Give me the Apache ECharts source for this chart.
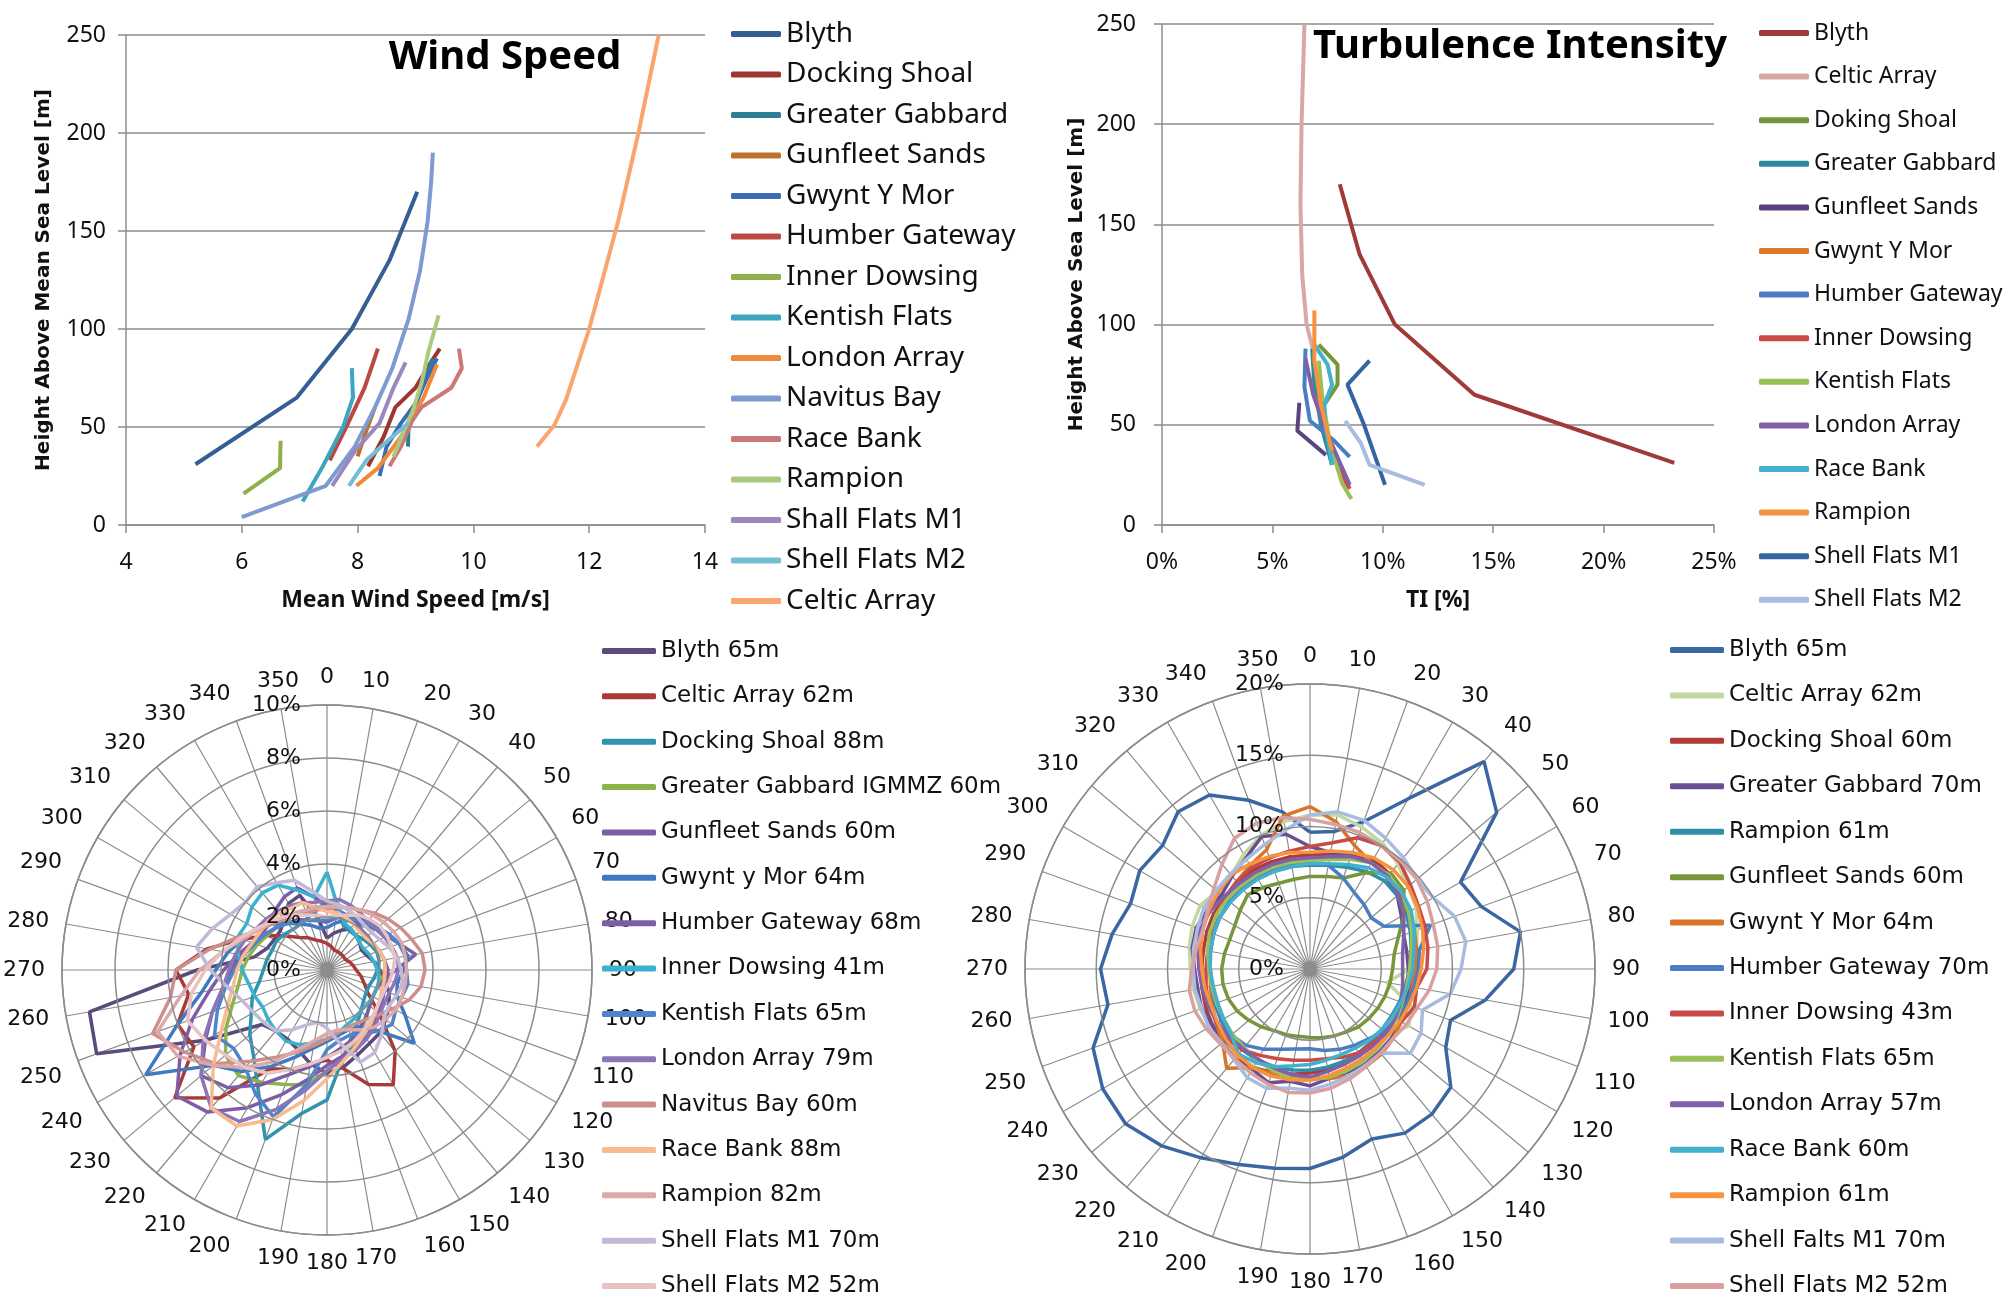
<!DOCTYPE html>
<html><head><meta charset="utf-8">
<script src="https://cdn.jsdelivr.net/npm/echarts@6/dist/echarts.min.js"></script>
<style>html,body{margin:0;padding:0;background:#fff;width:2010px;height:1310px;overflow:hidden}.c{position:absolute;left:0;top:0;width:2010px;height:1310px}</style>
</head><body>
<div id="c1" class="c"></div><div id="c2" class="c"></div><div id="c3" class="c"></div><div id="c4" class="c"></div>
<script>
// ---------- Wind speed profiles: [mean wind speed m/s, height m] ----------
const wsBlyth    = [[5.2,31],[6.95,65],[7.9,100],[8.55,135],[9.03,170]];
const wsDocking  = [[8.18,30],[8.45,45],[8.65,60],[9.0,70],[9.2,80],[9.42,90]];
const wsGG       = [[8.87,40],[8.88,52],[9.05,65],[9.3,85]];
const wsGunfleet = [[8.0,35],[8.15,48],[8.3,60]];
const wsGwynt    = [[8.38,25],[8.5,40],[8.75,52],[9.0,62],[9.2,75],[9.37,85]];
const wsHumber   = [[7.52,33],[7.82,51],[8.12,70],[8.35,90]];
const wsInner    = [[6.03,16],[6.66,29],[6.67,43]];
const wsKentish  = [[7.05,12],[7.4,30],[7.75,50],[7.92,65],[7.9,80]];
const wsLondon   = [[7.98,20],[8.35,29],[8.75,45],[9.14,65],[9.37,82]];
const wsNavitus  = [[6.0,4],[7.45,20],[7.95,40],[8.3,60],[8.6,80],[8.88,105],[9.08,130],[9.21,155],[9.27,175],[9.3,190]];
const wsRace     = [[8.55,30],[8.75,40],[8.94,53],[9.1,60],[9.62,70],[9.8,80],[9.75,90]];
const wsRampion  = [[8.62,35],[8.8,48],[8.95,58],[9.1,72],[9.22,88],[9.4,107]];
const wsShallM1  = [[7.56,20],[7.96,38],[8.38,52],[8.62,70],[8.83,83]];
const wsShellM2  = [[7.85,20],[8.15,33],[8.48,42],[8.88,52]];
const wsCeltic   = [[11.1,40],[11.4,51],[11.6,64],[11.8,82],[12.0,100],[12.2,122],[12.5,155],[12.85,200],[13.2,250]];
const wsNames  = ['Blyth','Docking Shoal','Greater Gabbard','Gunfleet Sands','Gwynt Y Mor','Humber Gateway','Inner Dowsing','Kentish Flats','London Array','Navitus Bay','Race Bank','Rampion','Shall Flats M1','Shell Flats M2','Celtic Array'];
const wsData   = [wsBlyth,wsDocking,wsGG,wsGunfleet,wsGwynt,wsHumber,wsInner,wsKentish,wsLondon,wsNavitus,wsRace,wsRampion,wsShallM1,wsShellM2,wsCeltic];
const wsColors = ['#355E92','#9E3531','#2D7F95','#C0702A','#3A6DB5','#BC4845','#8EB04A','#3EA5C0','#F08A3A','#7D9BD0','#CC7878','#ABCA7E','#9A88BE','#74BDD5','#F9A66E'];

// ---------- Turbulence intensity profiles: [TI %, height m] ----------
const tiBlyth    = [[23.2,31],[14.15,65],[10.55,100],[8.95,135],[8.05,170]];
const tiCeltic   = [[6.9,85],[6.55,100],[6.35,125],[6.27,160],[6.32,200],[6.45,250]];
const tiDoking   = [[7.35,60],[7.95,70],[7.95,80],[7.1,90]];
const tiGG       = [[7.7,30],[7.2,50],[6.9,70],[6.8,88]];
const tiGunfleet = [[7.42,35],[6.13,47],[6.22,61]];
const tiGwynt    = [[8.4,18],[7.6,40],[7.1,64]];
const tiHumber   = [[8.5,34],[7.8,42],[6.7,52],[6.45,69],[6.5,88]];
const tiInner    = [[8.5,18],[7.5,43]];
const tiKentish  = [[8.58,13],[8.15,21],[7.6,41],[7.25,65],[7.1,82]];
const tiLondon   = [[8.5,20],[7.5,45],[6.85,65],[6.5,83]];
const tiRace     = [[7.7,30],[7.4,50],[7.35,60],[7.7,70],[7.5,80],[6.9,90]];
const tiRampion  = [[7.7,37],[7.2,60],[6.9,82],[6.9,107]];
const tiShellM1  = [[10.1,20],[9.15,50],[8.4,70],[9.4,82]];
const tiShellM2  = [[11.9,20],[9.4,30],[9.0,41],[8.3,52]];
const tiNames  = ['Blyth','Celtic Array','Doking Shoal','Greater Gabbard','Gunfleet Sands','Gwynt Y Mor','Humber Gateway','Inner Dowsing','Kentish Flats','London Array','Race Bank','Rampion','Shell Flats M1','Shell Flats M2'];
const tiData   = [tiBlyth,tiCeltic,tiDoking,tiGG,tiGunfleet,tiGwynt,tiHumber,tiInner,tiKentish,tiLondon,tiRace,tiRampion,tiShellM1,tiShellM2];
const tiColors = ['#A03A36','#D9A7A6','#76963A','#2E8AA0','#5B437E','#E0762B','#4A7DC2','#C84B48','#9BC05A','#8060A8','#43B0CC','#F7923F','#3465A0','#A8BCE0'];

// ---------- Direction sectors ----------
const dirs = [0,10,20,30,40,50,60,70,80,90,100,110,120,130,140,150,160,170,180,190,200,210,220,230,240,250,260,270,280,290,300,310,320,330,340,350];

// ---------- Wind direction frequency (%) ----------
const wdBlyth    = [1.2,1.4,1.6,1.8,1.7,1.6,1.5,1.6,1.8,2.0, 2.2,2.5,2.7,2.9,3.1,3.2,3.4,3.7,3.9,3.6, 3.2,3.0,3.0,3.2,5.3,9.25,9.1,4.9,2.8,2.4, 2.3,2.3,2.5,2.9,3.0,2.0];
const wdCeltic   = [1.0,0.9,0.8,0.8,0.8,0.8,0.8,0.9,1.0,1.1, 1.3,1.5,1.8,2.6,4.0,5.0,4.6,3.8,3.4,3.6, 4.0,4.3,6.3,7.5,5.8,6.0,5.3,5.7,4.6,3.4, 2.6,2.0,1.6,1.4,1.2,1.1];
const wdDocking  = [2.6,2.3,1.8,1.7,1.7,1.8,1.9,2.0,2.0,1.9, 1.8,1.7,1.7,1.8,2.0,2.3,2.7,3.4,4.9,5.5, 6.8,5.2,4.3,3.8,3.3,3.0,2.6,2.4,2.3,2.2, 2.2,2.1,2.0,2.0,2.1,2.3];
const wdGG       = [2.4,2.5,2.4,2.2,2.0,1.9,2.0,2.1,2.2,2.2, 2.1,2.0,2.0,2.1,2.3,2.6,3.0,3.4,3.8,4.4, 4.6,4.9,5.2,5.0,4.4,3.8,3.4,3.2,3.0,2.8, 2.6,2.5,2.4,2.4,2.4,2.4];
const wdGunfleet = [1.8,2.0,2.2,2.3,2.4,2.5,2.7,2.9,3.4,2.6, 2.2,2.0,2.0,2.1,2.3,2.5,2.8,3.0,3.3,3.7, 4.2,5.0,5.8,6.2,5.3,4.6,4.0,3.6,3.3,3.0, 2.7,2.5,2.3,2.2,2.0,1.9];
const wdGwynt    = [1.6,1.8,2.0,2.1,2.2,2.4,2.6,2.9,3.1,2.9, 2.7,2.8,3.4,4.3,3.0,2.5,2.4,2.5,2.7,3.0, 3.5,4.2,5.0,5.6,7.9,6.0,4.8,4.2,3.8,3.4, 3.1,2.7,2.3,2.0,1.8,1.6];
const wdHumber   = [2.4,2.3,2.2,2.1,2.0,2.0,2.0,2.1,2.2,2.3, 2.3,2.3,2.4,2.5,2.7,2.9,3.1,3.3,3.6,4.2, 5.0,6.0,7.0,7.4,6.4,5.4,4.5,3.9,3.4,3.0, 2.8,2.8,3.0,3.2,3.3,2.8];
const wdInner    = [3.7,2.4,1.9,1.8,1.7,1.6,1.6,1.7,1.8,1.9, 2.0,2.0,2.0,2.0,2.0,2.1,2.2,2.4,2.6,2.8, 3.0,3.1,3.0,2.9,2.8,2.9,3.0,3.2,3.4,3.6, 3.5,3.7,3.8,3.7,3.2,2.8];
const wdKentish  = [1.9,2.0,2.1,2.2,2.3,2.5,2.7,2.9,3.0,3.0, 3.1,3.0,3.0,3.2,3.0,2.8,2.6,2.7,3.0,4.4, 5.9,5.4,4.8,4.6,4.9,4.4,3.9,3.5,3.2,2.9, 2.7,2.5,2.3,2.1,2.0,1.9];
const wdLondon   = [2.6,2.7,2.6,2.5,2.4,2.4,2.5,2.6,2.7,2.7, 2.6,2.5,2.5,2.6,2.8,3.0,3.2,3.4,3.8,4.6, 5.6,6.6,6.8,6.2,5.4,4.6,4.0,3.7,3.5,3.3, 3.1,3.0,2.9,2.8,2.7,2.6];
const wdNavitus  = [2.3,2.4,2.5,2.6,2.8,3.0,3.2,3.4,3.65,3.7, 3.6,3.3,2.9,2.6,2.4,2.3,2.3,2.4,2.6,2.9, 3.3,3.8,4.5,5.5,6.2,7.0,6.0,5.7,4.5,3.6, 3.0,2.7,2.5,2.4,2.3,2.3];
const wdRace     = [2.2,2.2,2.1,2.0,1.9,1.9,2.0,2.1,2.2,2.2, 2.2,2.2,2.3,2.4,2.6,2.8,3.1,3.5,4.1,5.0, 6.0,6.8,6.8,5.6,4.6,4.0,3.6,3.4,3.2,3.0, 2.9,2.9,2.8,2.7,2.7,2.4];
const wdRampion  = [2.4,2.4,2.5,2.6,2.7,2.8,2.9,3.0,3.0,3.0, 3.0,3.0,3.0,2.9,2.8,2.6,2.4,2.3,2.4,2.7, 3.2,4.0,4.8,5.6,6.5,6.8,5.6,4.8,4.0,3.4, 3.0,2.8,2.6,2.5,2.4,2.4];
const wdShellM1  = [2.6,2.5,2.4,2.3,2.2,2.2,2.3,2.5,2.7,2.8, 2.9,2.8,2.7,2.8,3.2,3.6,3.7,2.8,2.2,2.0, 2.2,2.6,3.0,3.1,3.2,3.4,3.8,4.4,5.0,4.6, 4.2,4.0,4.1,3.8,3.6,3.0];
const wdShellM2  = [2.0,2.1,2.2,2.4,2.5,2.6,2.6,2.6,2.6,2.5, 2.4,2.3,2.3,2.4,2.5,2.7,2.9,3.1,3.3,3.6, 4.0,4.5,4.8,5.0,5.3,5.6,5.2,4.6,4.0,3.5, 3.1,2.8,2.6,2.4,2.2,2.1];
const wdNames  = ['Blyth 65m','Celtic Array 62m','Docking Shoal 88m','Greater Gabbard IGMMZ 60m','Gunfleet Sands 60m','Gwynt y Mor 64m','Humber Gateway 68m','Inner Dowsing 41m','Kentish Flats 65m','London Array 79m','Navitus Bay 60m','Race Bank 88m','Rampion 82m','Shell Flats M1 70m','Shell Flats M2 52m'];
const wdData   = [wdBlyth,wdCeltic,wdDocking,wdGG,wdGunfleet,wdGwynt,wdHumber,wdInner,wdKentish,wdLondon,wdNavitus,wdRace,wdRampion,wdShellM1,wdShellM2];
const wdColors = ['#5B4A7C','#A83A38','#3193AE','#8DB34B','#7B5DA4','#3F79BF','#7D5DA8','#3BB0CF','#4F84CA','#8C74B8','#CE8E8C','#F8BA8E','#DCA8A8','#C3B8D6','#E8C3C3'];

// ---------- Turbulence intensity by direction (%) ----------
const tdBlyth    = [9.6,9.8,11.0,13.8,19.0,17.1,12.2,12.8,15.0,14.3, 12.5,10.5,11.0,12.9,13.3,13.3,12.7,13.4,14.0,14.2, 14.6,15.3,16.2,16.9,16.8,16.2,14.4,14.7,14.1,13.4, 13.8,13.5,14.4,14.1,12.6,11.2];
const tdCeltic   = [10.8,11.0,10.6,10.2,9.6,9.0,8.6,8.0,7.6,7.0, 5.5,7.6,8.0,7.2,7.4,7.5,7.6,7.7,7.8,7.8, 7.9,7.9,8.0,8.0,8.1,8.2,8.3,8.4,8.6,8.8, 8.9,8.5,8.6,9.3,10.0,10.5];
const tdDocking  = [8.0,8.2,8.6,8.9,8.7,8.3,7.9,7.6,7.4,7.3, 7.2,7.1,7.0,6.9,6.9,7.0,7.1,7.2,7.3,7.5, 7.7,8.0,8.2,8.1,7.9,7.8,7.7,7.6,7.6,7.7, 7.8,7.8,7.9,8.0,8.0,8.0];
const tdGG       = [8.6,8.3,8.4,8.7,8.4,8.0,7.4,7.0,6.9,6.9, 7.0,7.1,7.3,7.5,7.6,7.7,7.7,7.8,8.2,8.0, 8.5,8.1,7.8,7.8,7.9,8.1,8.0,8.1,8.4,8.5, 8.3,8.1,8.5,9.0,9.9,9.6];
const tdRampionA = [7.3,7.4,7.6,7.9,8.1,8.0,7.8,7.5,7.2,7.0, 6.8,6.7,6.6,6.6,6.7,6.8,6.9,7.0,7.1,7.2, 7.3,7.4,7.4,7.3,7.2,7.1,7.0,7.0,7.1,7.2, 7.3,7.3,7.3,7.3,7.3,7.3];
const tdGunfleet = [6.5,6.6,6.8,7.8,8.8,8.6,7.6,6.6,6.0,5.8, 5.7,5.6,5.5,5.4,5.3,5.1,5.0,4.9,4.8,4.8, 4.9,5.0,5.3,5.6,5.9,6.1,6.2,6.2,6.1,6.0, 6.1,6.4,6.8,6.6,6.4,6.4];
const tdGwynt    = [11.4,10.5,9.2,8.6,8.5,8.4,8.0,7.8,7.6,7.4, 7.3,7.3,7.4,7.6,7.8,7.9,8.0,7.8,7.6,7.6, 7.8,8.0,9.1,8.0,7.6,7.3,7.1,7.0,7.1,7.4, 7.6,7.8,8.0,8.4,8.9,10.9];
const tdHumber   = [7.4,7.4,6.8,6.2,5.9,5.6,6.0,9.0,7.8,7.6, 7.4,7.2,7.0,6.8,6.4,6.2,6.0,5.8,5.6,5.7, 6.0,6.5,7.0,7.2,7.2,7.1,7.0,7.0,7.1,7.2, 7.3,7.4,7.5,7.5,7.5,7.5];
const tdInner    = [8.6,9.0,9.8,10.0,9.8,9.2,8.8,8.6,8.4,8.2, 7.6,7.8,7.4,7.0,6.8,6.8,6.6,6.4,6.4,6.5, 6.7,7.0,7.4,7.6,7.6,7.5,7.4,7.3,7.3,7.4, 7.6,7.8,8.0,8.2,8.3,8.4];
const tdKentish  = [7.6,7.8,8.2,8.6,8.6,8.4,8.0,7.6,7.2,7.0, 6.9,6.9,7.0,7.1,7.3,7.5,7.6,7.7,7.8,7.8, 7.6,7.4,7.2,7.1,7.0,7.0,7.0,7.1,7.3,7.5, 7.6,7.6,7.6,7.6,7.6,7.6];
const tdLondon   = [7.8,8.0,8.4,8.6,8.5,8.1,7.6,7.0,6.6,6.5, 6.6,6.8,6.9,7.0,7.0,7.0,7.1,7.3,7.6,7.5, 7.4,7.3,7.3,7.4,7.5,7.6,7.7,7.8,8.0,8.2, 8.1,7.9,7.8,7.8,7.8,7.8];
const tdRace     = [7.4,7.5,7.8,8.2,8.4,8.4,8.2,7.8,7.4,7.2, 7.0,6.8,6.7,6.6,6.5,6.4,6.4,6.5,6.7,6.9, 7.3,7.6,7.8,7.2,7.0,6.9,6.9,7.0,7.1,7.2, 7.3,7.3,7.3,7.3,7.3,7.3];
const tdRampionB = [8.2,8.4,8.7,9.0,9.1,9.0,8.7,8.4,8.1,7.8, 7.6,7.4,7.3,7.2,7.2,7.3,7.4,7.6,7.8,7.9, 8.0,8.0,7.9,7.7,7.5,7.4,7.5,7.6,7.8,8.0, 8.2,8.4,8.6,8.5,8.4,8.3];
const tdShellM1  = [10.8,11.2,11.1,10.6,10.2,9.8,10.0,10.8,11.1,10.6, 10.0,8.4,9.0,9.2,7.7,7.8,8.0,8.2,8.5,8.5, 8.9,8.8,8.3,8.1,8.2,8.1,8.2,8.2,8.3,8.4, 8.6,8.6,8.7,8.9,9.3,9.9];
const tdShellM2  = [10.5,10.3,10.2,10.0,9.9,9.8,9.5,9.2,9.1,8.9, 8.5,8.0,7.8,7.6,7.7,7.9,8.2,8.5,8.7,8.8, 8.6,8.4,8.2,8.2,8.4,8.6,8.6,8.3,8.1,8.0, 8.3,8.8,9.6,10.6,10.9,10.8];
const tdNames  = ['Blyth 65m','Celtic Array 62m','Docking Shoal 60m','Greater Gabbard 70m','Rampion 61m','Gunfleet Sands 60m','Gwynt Y Mor 64m','Humber Gateway 70m','Inner Dowsing 43m','Kentish Flats 65m','London Array 57m','Race Bank 60m','Rampion 61m\u200b','Shell Falts M1 70m','Shell Flats M2 52m'];
const tdData   = [tdBlyth,tdCeltic,tdDocking,tdGG,tdRampionA,tdGunfleet,tdGwynt,tdHumber,tdInner,tdKentish,tdLondon,tdRace,tdRampionB,tdShellM1,tdShellM2];
const tdColors = ['#3A66A2','#C2D8A0','#B03A38','#6A4E92','#2F8EA8','#77963A','#D8752A','#4A7DC2','#C84B48','#9BC05A','#8060A8','#43B0CC','#F7923F','#A8BCE0','#D8A0A0'];

const FC = '"Noto Sans", "Open Sans", sans-serif';
const FV = '"DejaVu Sans", Verdana, sans-serif';
const AX = '#8C8C8C';

function xyOption(cfg){
  return {
    animation:false,
    grid:cfg.grid,
    xAxis:{type:'value',min:cfg.xmin,max:cfg.xmax,interval:cfg.xint,
      axisLine:{show:true,lineStyle:{color:AX,width:1.5}},
      axisTick:{show:true,length:8,lineStyle:{color:AX,width:1.5}},
      splitLine:{show:false},
      axisLabel:{fontSize:23,color:'#111',fontFamily:FC,margin:26,formatter:cfg.xfmt},
      name:cfg.xname,nameLocation:'middle',nameGap:64,
      nameTextStyle:{fontSize:23,fontWeight:'bold',color:'#111',fontFamily:FC}},
    yAxis:{type:'value',min:0,max:250,interval:50,
      axisLine:{show:true,lineStyle:{color:AX,width:1.5}},
      axisTick:{show:true,length:8,lineStyle:{color:AX,width:1.5}},
      splitLine:{show:true,lineStyle:{color:'#A8A8A8',width:2}},
      axisLabel:{fontSize:23,color:'#111',fontFamily:FC,margin:cfg.ylm},
      name:cfg.yname,nameLocation:'middle',nameGap:cfg.ygap,nameRotate:90,
      nameTextStyle:{fontSize:20,fontWeight:'bold',color:'#111',fontFamily:FV}},
    legend:{orient:'vertical',left:cfg.lx,top:cfg.ly,padding:0,itemWidth:50,itemHeight:6,
      itemGap:cfg.lgap,icon:'roundRect',
      textStyle:{fontSize:cfg.lfs,lineHeight:cfg.llh,color:'#111',fontFamily:FC},
      data:cfg.names},
    graphic:[{type:'text',x:cfg.tx,y:cfg.ty,
      style:{text:cfg.title,font:'bold 40px "Noto Sans"',fill:'#000',align:'center',verticalAlign:'middle'}}],
    series:cfg.data.map((d,i)=>({type:'line',name:cfg.names[i],data:d,symbol:'none',
      lineStyle:{width:4,color:cfg.colors[i]},itemStyle:{color:cfg.colors[i]}}))
  };
}

function polarOption(cfg){
  return {
    animation:false,
    polar:{center:cfg.center,radius:cfg.radius},
    angleAxis:{type:'value',min:0,max:360,interval:10,startAngle:90,clockwise:true,
      axisLine:{show:true,lineStyle:{color:AX,width:1.5}},
      axisTick:{show:false},
      splitLine:{show:true,lineStyle:{color:AX,width:1.2}},
      axisLabel:{fontSize:22,color:'#111',fontFamily:FV,margin:17,
        formatter:v=>v>=360?'':String(v)}},
    radiusAxis:{type:'value',min:0,max:cfg.rmax,interval:cfg.rint,
      axisLine:{show:false},axisTick:{show:false},
      splitLine:{show:true,lineStyle:{color:AX,width:1.5}},
      axisLabel:{fontSize:22,color:'#111',fontFamily:FV,formatter:'{value}%',margin:26},z:10},
    legend:{orient:'vertical',left:cfg.lx,top:cfg.ly,padding:0,itemWidth:54,itemHeight:6,
      itemGap:cfg.lgap,icon:'roundRect',
      textStyle:{fontSize:23,lineHeight:28,color:'#111',fontFamily:FV},
      data:cfg.names},
    series:cfg.data.map((vals,i)=>({type:'line',coordinateSystem:'polar',name:cfg.names[i],
      data:dirs.map((d,k)=>[vals[k],d]).concat([[vals[0],360]]),
      symbol:'none',lineStyle:{width:3.5,color:cfg.colors[i]},itemStyle:{color:cfg.colors[i]}}))
  };
}

const c1 = echarts.init(document.getElementById('c1'));
c1.setOption(xyOption({grid:{left:126,top:35,width:579,height:490},xmin:4,xmax:14,xint:2,
  xname:'Mean Wind Speed [m/s]',yname:'Height Above Mean Sea Level [m]',ygap:72,ylm:20,
  lx:731,ly:19,lgap:10.5,lfs:28,llh:30,names:wsNames,data:wsData,colors:wsColors,
  title:'Wind Speed',tx:505,ty:58}));

const c2 = echarts.init(document.getElementById('c2'));
c2.setOption(xyOption({grid:{left:1162,top:24,width:552,height:501},xmin:0,xmax:25,xint:5,
  xfmt:'{value}%',xname:'TI [%]',yname:'Height Above Sea Level [m]',ygap:75,ylm:26,
  lx:1759,ly:19,lgap:15.6,lfs:23,llh:28,names:tiNames,data:tiData,colors:tiColors,
  title:'Turbulence Intensity',tx:1520,ty:47}));

const c3 = echarts.init(document.getElementById('c3'));
c3.setOption(polarOption({center:[327,970],radius:265,rmax:10,rint:2,
  lx:602,ly:637,lgap:17.36,names:wdNames,data:wdData,colors:wdColors}));

const c4 = echarts.init(document.getElementById('c4'));
c4.setOption(polarOption({center:[1310,969],radius:285,rmax:20,rint:5,
  lx:1670,ly:636,lgap:17.43,names:tdNames,data:tdData,colors:tdColors}));
</script>
</body></html>
